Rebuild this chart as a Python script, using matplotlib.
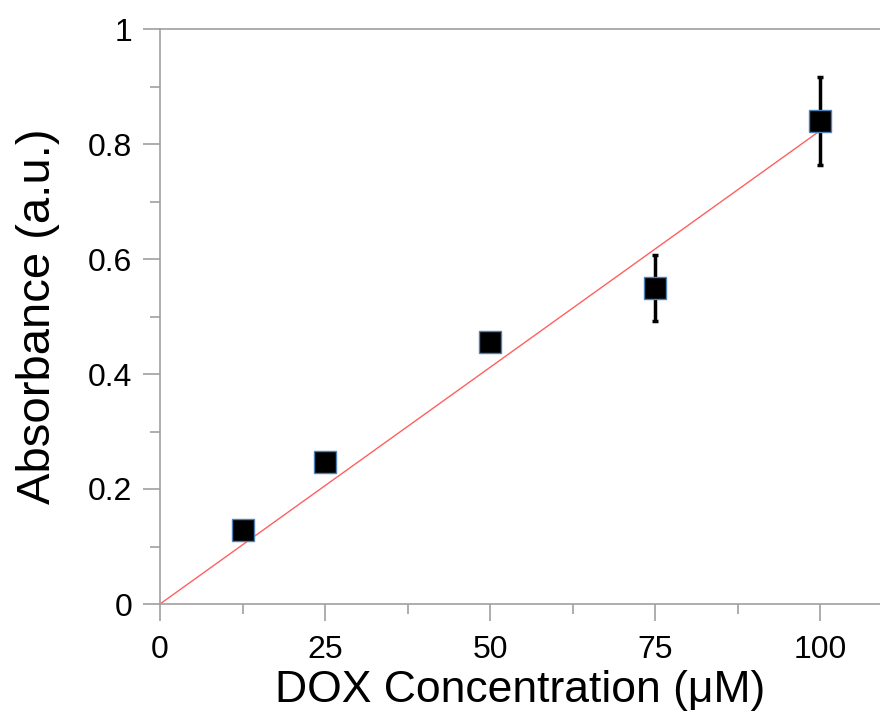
import matplotlib.pyplot as plt
import numpy as np

conc = [12.5, 25, 50, 75, 100]
absorb = [0.129, 0.247, 0.455, 0.55, 0.84]
err = [0, 0, 0, 0.057, 0.077]
fit_x = [0, 100]
fit_y = [0, 0.823]

plt.rcParams['font.family'] = ['Liberation Sans', 'DejaVu Sans']

fig = plt.figure(figsize=(8.8, 7.23), dpi=100)
ax = fig.add_axes([160 / 880, 119 / 723, 720 / 880, 575 / 723])

ax.plot(fit_x, fit_y, color='#ff6060', lw=1, zorder=2)
ax.errorbar(conc, absorb, yerr=err, fmt='none', ecolor='black', elinewidth=2.5,
            capsize=2.5, capthick=2.5, zorder=3)
ax.plot(conc, absorb, 's', ms=15.5, mfc='black', mec='#4f81bd', mew=1, zorder=4)

ax.set_xlim(0, 720 / 6.6)
ax.set_ylim(0, 1)
ax.set_xticks([0, 25, 50, 75, 100])
ax.set_xticks([12.5, 37.5, 62.5, 87.5], minor=True)
ax.set_yticks([0, 0.2, 0.4, 0.6, 0.8, 1])
ax.set_yticklabels(['0', '0.2', '0.4', '0.6', '0.8', '1'])
ax.set_yticks([0.1, 0.3, 0.5, 0.7, 0.9], minor=True)

for s in ['left', 'bottom', 'top']:
    ax.spines[s].set_color('#a0a0a0')
    ax.spines[s].set_linewidth(1.2)
ax.spines['right'].set_visible(False)

ax.tick_params(which='major', length=12, width=1.2, color='#a0a0a0', labelsize=23, pad=8)
ax.tick_params(which='minor', length=7, width=1.2, color='#a0a0a0')
ax.tick_params(axis='x', pad=10)

ax.set_xlabel('DOX Concentration (μM)', fontsize=32, labelpad=4)
ax.set_ylabel('Absorbance (a.u.)', fontsize=34, labelpad=20)

plt.savefig('out.png', dpi=100)
